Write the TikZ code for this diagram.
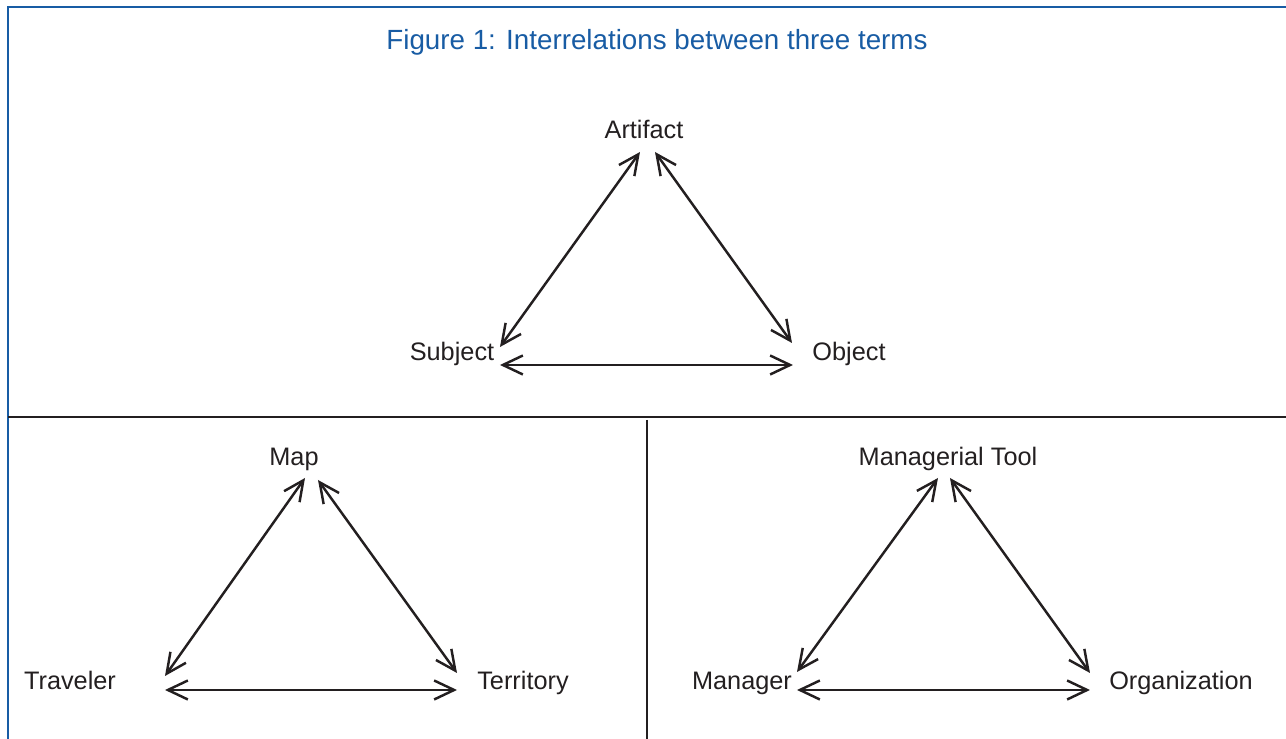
\documentclass[tikz,border=0pt]{standalone}
\usepackage{fontspec}
\setmainfont{Liberation Sans}
\usetikzlibrary{arrows.meta}
\definecolor{figblue}{RGB}{24,92,164}
\definecolor{ink}{RGB}{35,31,32}
\tikzset{
	term/.style={anchor=base, inner sep=1pt, text=ink, font=\fontsize{7.2}{8.6}\selectfont},
	rel/.style={{Straight Barb[length=2mm,width=1.9mm]}-{Straight Barb[length=2mm,width=1.9mm]}, line width=0.7pt, draw=ink},
	rule/.style={line width=0.7pt, draw=ink}
}
\begin{document}
\begin{tikzpicture}
	\useasboundingbox (0,0) rectangle (12.86,7.39);
	% frame and dividers
	\draw[figblue, line width=0.6pt] (12.86,7.32) -- (0.08,7.32) -- (0.08,0);
	\coordinate (hl) at (0.08,3.22);
	\coordinate (hr) at (12.86,3.22);
	\coordinate (vt) at (6.47,3.19);
	\coordinate (vb) at (6.47,0);
	\draw[rule] (hl) -- (hr);
	\draw[rule] (vt) -- (vb);
	\node (title) at (6.57,6.89) [anchor=base, text=figblue, font=\fontsize{7.9}{9.5}\selectfont] {Figure 1: Interrelations between three terms};
	% top triangle
	\node (Artifact) at (6.44,6.00) [term] {Artifact};
	\node (Subject) at (4.52,3.78) [term] {Subject};
	\node (Object) at (8.49,3.78) [term] {Object};
	\coordinate (art-l) at (6.40,5.87);
	\coordinate (art-r) at (6.55,5.87);
	\coordinate (sub-u) at (5.00,3.92);
	\coordinate (sub-r) at (5.00,3.74);
	\coordinate (obj-u) at (7.92,3.96);
	\coordinate (obj-l) at (7.93,3.74);
	\draw[rel] (art-l) -- (sub-u);
	\draw[rel] (art-r) -- (obj-u);
	\draw[rel] (sub-r) -- (obj-l);
	% bottom left triangle
	\node (Map) at (2.94,2.73) [term] {Map};
	\node (Traveler) at (0.70,0.49) [term] {Traveler};
	\node (Territory) at (5.23,0.49) [term] {Territory};
	\coordinate (map-l) at (3.05,2.61);
	\coordinate (map-r) at (3.18,2.59);
	\coordinate (trav-u) at (1.65,0.63);
	\coordinate (trav-r) at (1.65,0.49);
	\coordinate (terr-u) at (4.57,0.66);
	\coordinate (terr-l) at (4.57,0.49);
	\draw[rel] (map-l) -- (trav-u);
	\draw[rel] (map-r) -- (terr-u);
	\draw[rel] (trav-r) -- (terr-l);
	% bottom right triangle
	\node (Tool) at (9.48,2.73) [term] {Managerial Tool};
	\node (Manager) at (7.42,0.49) [term] {Manager};
	\node (Organization) at (11.81,0.49) [term] {Organization};
	\coordinate (tool-l) at (9.38,2.61);
	\coordinate (tool-r) at (9.50,2.61);
	\coordinate (man-u) at (7.97,0.67);
	\coordinate (man-r) at (7.97,0.49);
	\coordinate (org-u) at (10.90,0.66);
	\coordinate (org-l) at (10.90,0.49);
	\draw[rel] (tool-l) -- (man-u);
	\draw[rel] (tool-r) -- (org-u);
	\draw[rel] (man-r) -- (org-l);
\end{tikzpicture}
\end{document}
